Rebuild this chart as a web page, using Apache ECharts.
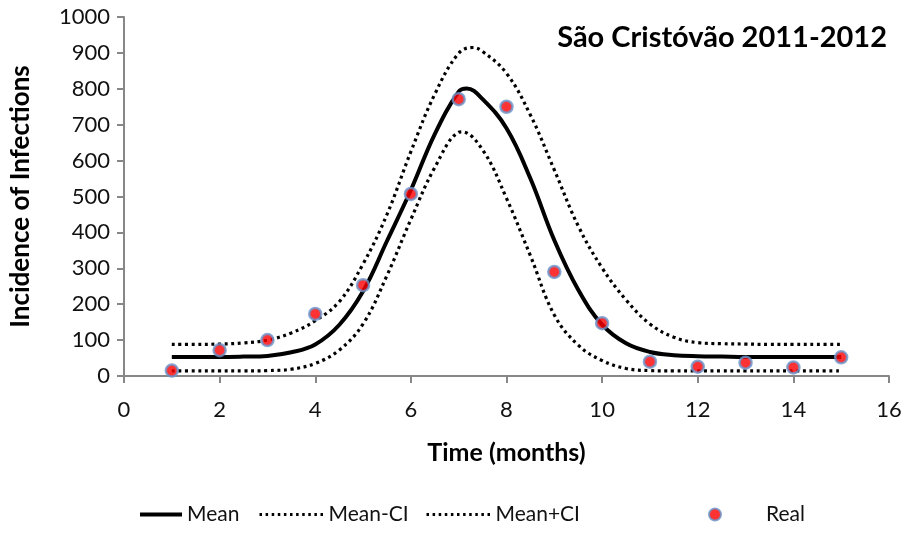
<!DOCTYPE html>
<html>
<head>
<meta charset="utf-8">
<script src="https://cdn.jsdelivr.net/npm/echarts@6/dist/echarts.min.js"></script>
<style>html,body{margin:0;padding:0;background:#fff;}#c{width:909px;height:540px;}</style>
</head>
<body>
<div id="c"></div>
<script>
const chartTitle = 'São Cristóvão 2011-2012';
const xAxisTitle = 'Time (months)';
const yAxisTitle = 'Incidence of Infections';
const seriesNames = ['Mean', 'Mean-CI', 'Mean+CI', 'Real'];

const meanX = [1,1.5,2,2.5,3,3.5,4,4.5,5,5.5,6,6.5,7,7.17,7.5,8,8.5,9,9.5,10,10.5,11,11.5,12,12.5,13,13.5,14,14.5,15];
const meanY = [53,53,53,54,56,66,88,142,236,376,518,674,792,801,771,690,550,378,240,143,91,67,58,55,54,53,53,53,53,53];

const lowerX = [1,1.5,2,2.5,3,3.5,4,4.5,5,5.5,6,6.5,7,7.06,7.5,8,8.5,9,9.5,10,10.5,11,11.5,12,12.5,13,13.5,14,14.5,15];
const lowerY = [14,14,14,14,15,19,35,72,145,280,436,581,679,680,630,495,335,170,86,43,21,15,14,14,14,14,14,14,14,14];

const upperX = [1,1.5,2,2.5,3,3.5,4,4.5,5,5.5,6,6.5,7,7.3,7.5,8,8.5,9,9.5,10,10.5,11,11.5,12,12.5,13,13.5,14,14.5,15];
const upperY = [88,88,89,92,100,120,154,207,312,450,625,785,899,915,904,843,727,574,418,301,212,145,108,93,90,89,88,88,88,88];

const realMonths = [1,2,3,4,5,6,7,8,9,10,11,12,13,14,15];
const realValues = [15,72,100,173,253,507,771,750,290,147,40,26,37,24,52];

const xTicks = {min: 0, max: 16, interval: 2};
const yTicks = {min: 0, max: 1000, interval: 100};

const pairs = (xs, ys) => xs.map((x, i) => [x, ys[i]]);
const FONT = 'Lato';
const axisGray = '#878787';

const chart = echarts.init(document.getElementById('c'), null, {renderer: 'canvas'});
const dotted = {color: '#000', width: 3.2, type: [3, 3.6], cap: 'butt'};
const legendText = {fontFamily: FONT, fontSize: 21, color: '#111'};

chart.setOption({
  animation: false,
  backgroundColor: '#ffffff',
  title: {
    text: chartTitle,
    right: 17, top: 18,
    textStyle: {fontFamily: FONT, fontWeight: 'bold', fontSize: 29, color: '#000'}
  },
  grid: {left: 124, right: 20, top: 17, bottom: 164, containLabel: false},
  legend: [
    {data: [seriesNames[0]], left: 138, top: 504, padding: 0, itemWidth: 42, itemHeight: 14,
     itemStyle: {opacity: 0}, lineStyle: {width: 4, color: '#000'}, textStyle: legendText},
    {data: [seriesNames[1]], left: 258, top: 504, padding: 0, itemWidth: 64, itemHeight: 14,
     itemStyle: {opacity: 0}, lineStyle: {width: 3, color: '#000', type: [2.5, 3.6]}, textStyle: legendText},
    {data: [seriesNames[2]], left: 425, top: 504, padding: 0, itemWidth: 64, itemHeight: 14,
     itemStyle: {opacity: 0}, lineStyle: {width: 3, color: '#000', type: [2.5, 3.6]}, textStyle: legendText},
    {data: [seriesNames[3]], left: 708, top: 504, padding: 0, itemWidth: 12, itemHeight: 12,
     textStyle: Object.assign({}, legendText, {padding: [0, 0, 0, 40]})}
  ],
  xAxis: {
    type: 'value', min: xTicks.min, max: xTicks.max, interval: xTicks.interval,
    name: xAxisTitle, nameLocation: 'middle', nameGap: 64,
    nameTextStyle: {fontFamily: FONT, fontWeight: 'bold', fontSize: 25, color: '#000'},
    axisLine: {show: true, lineStyle: {color: axisGray, width: 2}},
    axisTick: {show: true, inside: false, length: 7, lineStyle: {color: axisGray, width: 2}},
    axisLabel: {fontFamily: FONT, fontSize: 22, color: '#111', margin: 23},
    splitLine: {show: false}
  },
  yAxis: {
    type: 'value', min: yTicks.min, max: yTicks.max, interval: yTicks.interval,
    name: yAxisTitle, nameLocation: 'middle', nameGap: 90, nameRotate: 90,
    nameTextStyle: {fontFamily: FONT, fontWeight: 'bold', fontSize: 26, color: '#000'},
    axisLine: {show: true, lineStyle: {color: axisGray, width: 2}},
    axisTick: {show: true, inside: false, length: 7, lineStyle: {color: axisGray, width: 2}},
    axisLabel: {fontFamily: FONT, fontSize: 22, color: '#111', margin: 14, formatter: v => String(v)},
    splitLine: {show: false}
  },
  series: [
    {name: seriesNames[0], type: 'line', data: pairs(meanX, meanY), showSymbol: false, symbol: 'none',
     smooth: 0.4, lineStyle: {color: '#000', width: 4}, itemStyle: {color: '#000'}, z: 3},
    {name: seriesNames[1], type: 'line', data: pairs(lowerX, lowerY), showSymbol: false, symbol: 'none',
     smooth: 0.4, lineStyle: dotted, itemStyle: {color: '#000'}, z: 2},
    {name: seriesNames[2], type: 'line', data: pairs(upperX, upperY), showSymbol: false, symbol: 'none',
     smooth: 0.4, lineStyle: dotted, itemStyle: {color: '#000'}, z: 2},
    {name: seriesNames[3], type: 'scatter', data: pairs(realMonths, realValues), symbol: 'circle', symbolSize: 12,
     itemStyle: {color: '#ff0000', borderColor: '#6a95cc', borderWidth: 2.5}, z: 5}
  ]
});
</script>
</body>
</html>
